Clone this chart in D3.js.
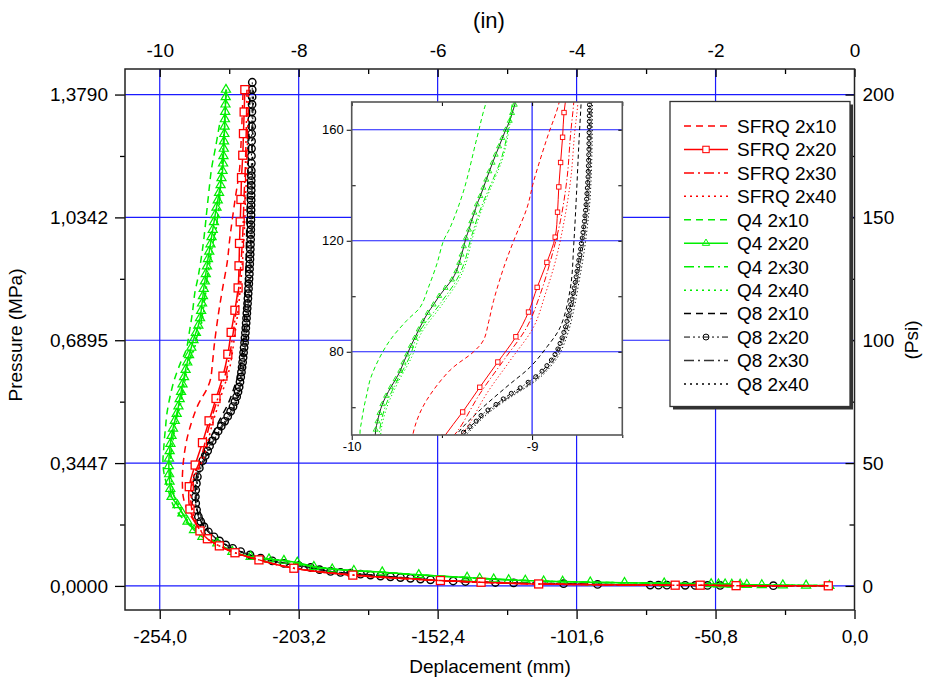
<!DOCTYPE html>
<html>
<head>
<meta charset="utf-8">
<script src="https://cdn.jsdelivr.net/npm/d3@7/dist/d3.min.js"></script>
<style>
  body { margin: 0; background: #fff; }
  svg text { font-family: "Liberation Sans", Arial, sans-serif; fill: #000; }
</style>
</head>
<body>
<div id="chart"></div>
<script>
// ---- tick values / labels ----
const mmTicks = [-254, -203.2, -152.4, -101.6, -50.8, 0];
const mmLabels = ["-254,0", "-203,2", "-152,4", "-101,6", "-50,8", "0,0"];
const mmMinor = [-228.6, -177.8, -127, -76.2, -25.4];
const inTicks = [-10, -8, -6, -4, -2, 0];
const inMinor = [-9, -7, -5, -3, -1];
const psiTicks = [0, 50, 100, 150, 200];
const psiMinor = [25, 75, 125, 175];
const mpaLabels = ["0,0000", "0,3447", "0,6895", "1,0342", "1,3790"];
const insetXTicks = [-10, -9];
const insetXMinor = [-9.5, -8.5];
const insetYTicks = [80, 120, 160];
const insetYMinor = [60, 100, 140];

// ---- data: displacement (in), pressure (psi) ----
// SFRQ family
const tailRedD = [-0.377, -1.704, -2.221, -2.581, -4.546, -5.375, -5.960, -7.221, -8.069, -8.572, -8.917, -9.142, -9.314];
const tailRedP = [0.05, 0.1, 0.3, 0.3, 0.8, 1.5, 2.2, 4.4, 7.2, 10.6, 13.5, 16.3, 19.2];
const sfrq2x10D = [-9.482, -9.602, -9.660, -9.674, -9.670, -9.640, -9.583, -9.454, -9.324, -9.269, -9.240, -9.213, -9.157, -9.102, -9.028, -8.991, -8.917, -8.850, -8.830, -8.815, -8.800];
const sfrq2x10P = [25.5, 30.9, 36.0, 42.0, 47.0, 55.0, 62.7, 73.4, 80.0, 84.2, 91.0, 98.5, 110.4, 120.0, 131.9, 141.5, 157.0, 169.9, 180.0, 190.0, 202.0];
const sfrq2x20D = [-9.421, -9.565, -9.575, -9.490, -9.385, -9.290, -9.190, -9.090, -9.020, -8.972, -8.918, -8.872, -8.859, -8.852, -8.842, -8.831, -8.823, -8.805, -8.795, -8.785, -8.775];
const sfrq2x20P = [22.4, 31.3, 40.4, 49.2, 58.3, 67.2, 76.3, 85.4, 94.3, 103.2, 112.2, 121.3, 130.3, 139.4, 148.2, 157.3, 166.2, 175.3, 184.1, 192.9, 202.0];
const sfrq2x30D = [-9.45, -9.53, -9.555, -9.54, -9.48, -9.417, -9.287, -9.157, -9.028, -8.954, -8.898, -8.843, -8.806, -8.787, -8.769, -8.755, -8.745];
const sfrq2x40D = [-9.44, -9.52, -9.545, -9.53, -9.46, -9.380, -9.250, -9.120, -8.991, -8.926, -8.870, -8.822, -8.785, -8.765, -8.746, -8.735, -8.725];
const sfrqUpperP = [24, 30, 36, 42, 47, 51.1, 65.1, 77.0, 89.0, 100.9, 112.8, 127.2, 142.7, 158.2, 169.9, 185, 202];

// Q4 family
const tailQ4D = [-0.362, -1.032, -2.063, -2.739, -3.803, -4.738, -5.576, -6.272, -6.798, -7.206, -7.781, -8.213, -8.692, -8.955, -9.171];
const tailQ4P = [0.1, 0.3, 0.8, 1.1, 1.5, 2.2, 3.4, 4.5, 5.6, 6.2, 7.8, 10.3, 11.9, 13.9, 17.4];
const q4x10D = [-9.39, -9.602, -9.794, -9.89, -9.94, -9.954, -9.945, -9.931, -9.915, -9.898, -9.852, -9.787, -9.694, -9.620, -9.574, -9.528, -9.491, -9.454, -9.380, -9.306, -9.254, -9.200, -9.137];
const q4x10P = [20.5, 25.5, 32.2, 40.4, 46.0, 50.7, 55.0, 60.3, 65.0, 69.9, 77.0, 84.2, 91.3, 96.1, 103.3, 111.6, 120.0, 124.8, 137.9, 157.0, 169.9, 178.0, 188.2];
const q4x20TailD = [-0.362, -0.697, -1.032, -1.334, -1.550, -1.646, -1.766, -1.862, -1.958, -2.063,
  -2.739, -3.310, -3.803, -4.201, -4.474, -4.738, -4.978, -5.193, -5.395, -5.576,
  -6.272, -6.798, -7.206, -7.517, -7.781, -8.020, -8.213, -8.428, -8.692, -8.955,
  -9.171, -9.386, -9.507, -9.600, -9.674, -9.746, -9.830, -9.848, -9.858, -9.865, -9.869];
const q4x20TailP = [0.1, 0.2, 0.3, 0.4, 0.5, 0.6, 0.6, 0.7, 0.7, 0.8,
  1.1, 1.3, 1.5, 1.8, 1.9, 2.2, 2.4, 2.7, 3.0, 3.4,
  4.5, 5.6, 6.2, 6.8, 7.8, 9.5, 10.3, 10.9, 11.9, 13.9,
  17.4, 20.0, 22.8, 26.2, 29.6, 32.9, 36.3, 39.5, 42.5, 45.5, 48.8];
const q4x20D = [-9.867, -9.857, -9.846, -9.830, -9.809, -9.783, -9.756, -9.731, -9.713, -9.693,
  -9.672, -9.650, -9.628, -9.604, -9.578, -9.546, -9.515, -9.480, -9.444, -9.420,
  -9.404, -9.391, -9.378, -9.367, -9.350, -9.337, -9.320, -9.306, -9.287, -9.270,
  -9.254, -9.237, -9.219, -9.202, -9.183, -9.165, -9.146, -9.124, -9.111, -9.096,
  -9.088, -9.083, -9.078, -9.074, -9.070, -9.066, -9.062, -9.058, -9.054, -9.050, -9.047];
const q4x20P = [51.9, 54.9, 57.9, 61.1, 64.1, 67.2, 70.1, 73.1, 76.1, 79.0,
  82.1, 85.0, 88.0, 91.0, 94.0, 97.0, 100.1, 103.0, 106.0, 109.0,
  112.0, 115.0, 118.0, 121.0, 124.0, 127.0, 130.1, 133.1, 136.1, 139.1,
  142.0, 145.0, 148.1, 151.0, 154.0, 157.0, 160.0, 163.2, 166.0, 169.0,
  172, 175, 178, 181, 184, 187, 190, 193, 196, 199, 202];
const q4x30D = [-9.40, -9.59, -9.72, -9.81, -9.845, -9.846, -9.815, -9.755, -9.68, -9.63, -9.51, -9.42, -9.375, -9.343, -9.29, -9.213, -9.175, -9.15, -9.132, -9.111, -9.075, -9.045];
const q4x40D = [-9.395, -9.58, -9.71, -9.80, -9.835, -9.838, -9.805, -9.745, -9.668, -9.615, -9.495, -9.408, -9.365, -9.335, -9.282, -9.205, -9.168, -9.144, -9.127, -9.106, -9.070, -9.040];
const q4UpperP = [21, 26, 32, 38, 44, 51.1, 60, 68.7, 78, 86.6, 97.3, 105.7, 112.2, 120, 130.7, 142.7, 148.7, 154.6, 160.6, 169, 185, 202];

// Q8 family
const tailQ8D = [-0.377, -1.168, -2.940, -4.187, -5.169, -5.960, -6.535, -7.110, -7.541, -8.000, -8.380, -8.700, -8.950, -9.140];
const tailQ8P = [0.05, 0.1, 0.35, 0.9, 1.4, 2.2, 3.4, 4.8, 5.9, 8.3, 10.2, 12.6, 15.3, 18.3];
const q8x10D = [-9.22, -9.30, -9.40, -9.47, -9.49, -9.475, -9.407, -9.287, -9.139, -9.009, -8.917, -8.843, -8.787, -8.769, -8.754, -8.741, -8.728, -8.715, -8.700];
const q8x10P = [20, 22, 26, 32, 38, 44, 51.1, 59.1, 67.5, 74.6, 81.8, 89, 103.3, 118.8, 136.7, 154.6, 169.9, 185, 202];
const q8x20TailD = [-1.168, -1.934, -2.116, -2.293, -2.437, -2.700, -2.821, -2.940, -3.698, -4.187,
  -4.906, -5.169, -5.600, -5.777, -5.960, -6.103, -6.247, -6.391, -6.535, -6.679,
  -6.822, -6.966, -7.110, -7.254, -7.398, -7.541, -7.700, -7.829, -8.000, -8.213,
  -8.380, -8.548, -8.700, -8.835, -8.950, -9.051, -9.140, -9.219, -9.300, -9.363,
  -9.410, -9.444, -9.470, -9.482, -9.487, -9.482, -9.472, -9.458, -9.430];
const q8x20TailP = [0.1, 0.2, 0.2, 0.2, 0.25, 0.3, 0.3, 0.35, 0.6, 0.9,
  1.2, 1.4, 1.8, 2.0, 2.2, 2.5, 2.8, 3.1, 3.4, 3.7,
  4.0, 4.4, 4.8, 5.2, 5.5, 5.9, 6.6, 7.5, 8.3, 9.2,
  10.2, 11.3, 12.6, 14.0, 15.3, 16.7, 18.3, 20.0, 22.0, 24.1,
  26.2, 28.2, 31.0, 33.6, 36.3, 39.0, 41.7, 44.4, 48.0];
const q8x20D = [-9.380, -9.345, -9.310, -9.283, -9.245, -9.200, -9.160, -9.115, -9.066, -9.022,
  -8.980, -8.945, -8.918, -8.893, -8.873, -8.857, -8.845, -8.834, -8.824, -8.815,
  -8.807, -8.800, -8.793, -8.786, -8.779, -8.773, -8.767, -8.761, -8.756, -8.751,
  -8.746, -8.741, -8.736, -8.731, -8.727, -8.722, -8.718, -8.714, -8.710, -8.707,
  -8.704, -8.701, -8.698, -8.696, -8.694, -8.692, -8.690, -8.689, -8.688, -8.687,
  -8.686, -8.685, -8.685, -8.684, -8.684, -8.683, -8.683, -8.683, -8.682, -8.682,
  -8.681, -8.680, -8.679, -8.678, -8.677, -8.676, -8.674, -8.673, -8.671, -8.670, -8.669, -8.668];
const q8x20P = [51, 53, 55, 57, 59, 61, 63, 65, 67, 69,
  71, 73, 75, 77, 79, 81, 83, 85, 87, 89,
  91, 93, 95, 97, 99, 101, 103, 105, 107, 109,
  111, 113, 115, 117, 119, 121, 123, 125, 127, 129,
  131, 133, 135, 137, 139, 141, 143, 145, 147, 149,
  151, 153, 155, 157, 159, 161, 163, 165, 167, 169,
  172, 175, 178, 181, 184, 187, 190, 193, 196, 199, 202, 205];
const q8x30D = [-9.22, -9.29, -9.37, -9.45, -9.475, -9.46, -9.36, -9.25, -9.12, -9.0, -8.93, -8.86, -8.81, -8.776, -8.748, -8.724, -8.703, -8.688, -8.679, -8.675, -8.673, -8.672, -8.665, -8.658];
const q8x40D = [-9.22, -9.28, -9.36, -9.44, -9.465, -9.45, -9.35, -9.24, -9.11, -8.99, -8.92, -8.85, -8.80, -8.766, -8.738, -8.714, -8.694, -8.680, -8.672, -8.668, -8.666, -8.665, -8.660, -8.652];
const q8UpperP = [20, 22, 26, 32, 38, 44, 51.1, 58, 64, 69, 73, 79, 87, 96, 106, 115, 125, 134, 144, 153, 163, 170, 185, 202];

const red = "#ff0000", green = "#00ee00", black = "#000000";

const series = [
  { name: "SFRQ 2x10", color: red, dash: "7,5", d: tailRedD.concat(sfrq2x10D), p: tailRedP.concat(sfrq2x10P) },
  { name: "SFRQ 2x20", color: red, dash: null, marker: "square", d: tailRedD.concat(sfrq2x20D), p: tailRedP.concat(sfrq2x20P) },
  { name: "SFRQ 2x30", color: red, dash: "10,4,2,4", d: tailRedD.concat(sfrq2x30D), p: tailRedP.concat(sfrqUpperP) },
  { name: "SFRQ 2x40", color: red, dash: "2,4", d: tailRedD.concat(sfrq2x40D), p: tailRedP.concat(sfrqUpperP) },
  { name: "Q4 2x10", color: green, dash: "7,5", d: tailQ4D.concat(q4x10D), p: tailQ4P.concat(q4x10P) },
  { name: "Q4 2x20", color: green, dash: null, marker: "triangle", insetLine: "#222", d: q4x20TailD.concat(q4x20D), p: q4x20TailP.concat(q4x20P) },
  { name: "Q4 2x30", color: green, dash: "10,4,2,4", d: tailQ4D.concat(q4x30D), p: tailQ4P.concat(q4UpperP) },
  { name: "Q4 2x40", color: green, dash: "2,4", d: tailQ4D.concat(q4x40D), p: tailQ4P.concat(q4UpperP) },
  { name: "Q8 2x10", color: black, dash: "7,5", d: tailQ8D.concat(q8x10D), p: tailQ8P.concat(q8x10P) },
  { name: "Q8 2x20", color: black, dash: "6,3,2,3,2,3", width: 1, marker: "circle", d: q8x20TailD.concat(q8x20D), p: q8x20TailP.concat(q8x20P) },
  { name: "Q8 2x30", color: "#333", dash: "10,4,2,4", d: tailQ8D.concat(q8x30D), p: tailQ8P.concat(q8UpperP) },
  { name: "Q8 2x40", color: black, dash: "2,4", d: tailQ8D.concat(q8x40D), p: tailQ8P.concat(q8UpperP) }
];
const drawOrder = [8, 9, 10, 11, 4, 5, 6, 7, 0, 1, 2, 3];

// ---- layout ----
const svg = d3.select("#chart").append("svg")
  .attr("width", 930)
  .attr("height", 684);

const margins = { top: 69, right: 75.5, bottom: 74, left: 125 },
  width = 930 - margins.left - margins.right,
  height = 684 - margins.top - margins.bottom;

const xIn = d3.scaleLinear().domain([-10.5, 0]).range([0, width]);
const xMM = d3.scaleLinear().domain([-266.7, 0]).range([0, width]);
const y = d3.scaleLinear().domain([-9.8, 210.4]).range([height, 0]);

const g = svg.append("g").attr("transform", `translate(${margins.left},${margins.top})`);

const defs = svg.append("defs");
defs.append("clipPath").attr("id", "clipMain")
  .append("rect").attr("width", width).attr("height", height);

// grid
const grid = g.append("g").attr("stroke", "#1a1aff").attr("stroke-width", 1.2);
grid.selectAll("line.v").data(mmTicks.slice(0, -1)).enter().append("line")
  .attr("x1", d => xMM(d)).attr("x2", d => xMM(d)).attr("y1", 0).attr("y2", height);
grid.selectAll("line.h").data(psiTicks).enter().append("line")
  .attr("x1", 0).attr("x2", width).attr("y1", d => y(d)).attr("y2", d => y(d));

// markers
function drawMarkers(sel, s, pts, xs, ys, scale) {
  if (s.marker === "square") {
    const a = 8 * scale;
    sel.selectAll("rect").data(pts).enter().append("rect")
      .attr("x", d => xs(d[0]) - a / 2).attr("y", d => ys(d[1]) - a / 2)
      .attr("width", a).attr("height", a)
      .attr("fill", "#fff").attr("stroke", s.color).attr("stroke-width", 1.3 * Math.max(scale, 0.7));
  } else if (s.marker === "triangle") {
    const sym = d3.symbol().type(d3.symbolTriangle).size(36 * scale * scale);
    sel.selectAll("path.m").data(pts).enter().append("path")
      .attr("transform", d => `translate(${xs(d[0])},${ys(d[1])})`)
      .attr("d", sym).attr("fill", "none")
      .attr("stroke", s.color).attr("stroke-width", 1.2 * Math.max(scale, 0.7));
  } else if (s.marker === "circle") {
    sel.selectAll("circle").data(pts).enter().append("circle")
      .attr("cx", d => xs(d[0])).attr("cy", d => ys(d[1])).attr("r", 3.7 * scale)
      .attr("fill", "none").attr("stroke", s.color).attr("stroke-width", scale < 1 ? 1 : 1.4);
  }
}

function drawSeries(parent, xs, ys, scale, inset) {
  const line = d3.line().x(d => xs(d[0])).y(d => ys(d[1])).curve(d3.curveCatmullRom.alpha(0.5));
  drawOrder.forEach(i => {
    const s = series[i];
    const pts = d3.zip(s.d, s.p);
    const sg = parent.append("g");
    const dash = s.dash ? s.dash.split(",").map(v => +v * (inset ? 0.6 : 1)).join(",") : null;
    sg.append("path").datum(pts)
      .attr("d", line)
      .attr("fill", "none")
      .attr("stroke", inset && s.insetLine ? s.insetLine : s.color)
      .attr("stroke-width", inset ? 1 : (s.width || 1.5))
      .attr("stroke-dasharray", dash);
    if (s.marker) drawMarkers(sg, s, pts, xs, ys, scale);
  });
}

const plotArea = g.append("g").attr("clip-path", "url(#clipMain)");
drawSeries(plotArea, xIn, y, 1, false);

// ---- main axes ----
function styleAxis(sel, size) {
  sel.select(".domain").remove();
  sel.selectAll(".tick line").attr("stroke", "#000").attr("stroke-width", 1.3);
  sel.selectAll(".tick text").style("font-size", size + "px").attr("fill", "#000");
}

g.append("g").attr("transform", `translate(0,${height})`)
  .call(d3.axisBottom(xMM).tickValues(mmTicks).tickSize(9).tickPadding(11)
    .tickFormat((d, i) => mmLabels[i]))
  .call(s => styleAxis(s, 19));
g.append("g").attr("transform", `translate(0,${height})`)
  .call(d3.axisBottom(xMM).tickValues(mmMinor).tickSize(5).tickFormat(""))
  .call(s => styleAxis(s, 19));

g.append("g")
  .call(d3.axisTop(xIn).tickValues(inTicks).tickSize(-8).tickPadding(12).tickFormat(d => d))
  .call(s => styleAxis(s, 19));
g.append("g")
  .call(d3.axisTop(xIn).tickValues(inMinor).tickSize(-5).tickFormat(""))
  .call(s => styleAxis(s, 19));

g.append("g")
  .call(d3.axisLeft(y).tickValues(psiTicks).tickSize(10).tickPadding(7)
    .tickFormat((d, i) => mpaLabels[i]))
  .call(s => styleAxis(s, 19));
g.append("g")
  .call(d3.axisLeft(y).tickValues(psiMinor).tickSize(5).tickFormat(""))
  .call(s => styleAxis(s, 19));

g.append("g").attr("transform", `translate(${width},0)`)
  .call(d3.axisRight(y).tickValues(psiTicks).tickSize(-9).tickPadding(8).tickFormat(d => d))
  .call(s => styleAxis(s, 19));
g.append("g").attr("transform", `translate(${width},0)`)
  .call(d3.axisRight(y).tickValues(psiMinor).tickSize(-5).tickFormat(""))
  .call(s => styleAxis(s, 19));

// axis titles
svg.append("text").attr("x", 490).attr("y", 673).attr("text-anchor", "middle")
  .style("font-size", "19px").text("Deplacement (mm)");
svg.append("text").attr("x", 489).attr("y", 28).attr("text-anchor", "middle")
  .style("font-size", "22px").text("(in)");
svg.append("text").attr("transform", "translate(22,335) rotate(-90)").attr("text-anchor", "middle")
  .style("font-size", "19px").text("Pressure (MPa)");
svg.append("text").attr("transform", "translate(918,340) rotate(-90)").attr("text-anchor", "middle")
  .style("font-size", "19px").text("(Psi)");

// ---- inset ----
const ins = { left: 351.7, top: 102, w: 270.6, h: 333 };
const xInset = d3.scaleLinear().domain([-10, -8.5]).range([0, ins.w]);
const yInset = d3.scaleLinear().domain([50, 170]).range([ins.h, 0]);
const gi = svg.append("g").attr("transform", `translate(${ins.left},${ins.top})`);
defs.append("clipPath").attr("id", "clipInset")
  .append("rect").attr("width", ins.w).attr("height", ins.h);

gi.append("rect").attr("width", ins.w).attr("height", ins.h).attr("fill", "#fff");
const igrid = gi.append("g").attr("stroke", "#1a1aff").attr("stroke-width", 1.2);
igrid.append("line").attr("x1", xInset(-9)).attr("x2", xInset(-9)).attr("y1", 0).attr("y2", ins.h);
igrid.selectAll("line.h").data(insetYTicks).enter().append("line")
  .attr("x1", 0).attr("x2", ins.w).attr("y1", d => yInset(d)).attr("y2", d => yInset(d));

const insetArea = gi.append("g").attr("clip-path", "url(#clipInset)");
drawSeries(insetArea, xInset, yInset, 0.55, true);

gi.append("g").attr("transform", `translate(0,${ins.h})`)
  .call(d3.axisBottom(xInset).tickValues(insetXTicks).tickSize(5).tickPadding(2).tickFormat(d => d))
  .call(s => styleAxis(s, 13));
gi.append("g").attr("transform", `translate(0,${ins.h})`)
  .call(d3.axisBottom(xInset).tickValues(insetXMinor).tickSize(3).tickFormat(""))
  .call(s => styleAxis(s, 13));
gi.append("g")
  .call(d3.axisTop(xInset).tickValues(insetXMinor.concat(insetXTicks)).tickSize(-4).tickFormat(""))
  .call(s => styleAxis(s, 13));
gi.append("g")
  .call(d3.axisLeft(yInset).tickValues(insetYTicks).tickSize(5).tickPadding(3).tickFormat(d => d))
  .call(s => styleAxis(s, 13));
gi.append("g")
  .call(d3.axisLeft(yInset).tickValues(insetYMinor).tickSize(-4).tickFormat(""))
  .call(s => styleAxis(s, 13));
gi.append("g").attr("transform", `translate(${ins.w},0)`)
  .call(d3.axisRight(yInset).tickValues(insetYTicks.concat(insetYMinor)).tickSize(-4).tickFormat(""))
  .call(s => styleAxis(s, 13));
gi.selectAll(".tick line").attr("stroke-width", 1);
gi.append("rect").attr("width", ins.w).attr("height", ins.h)
  .attr("fill", "none").attr("stroke", "#555").attr("stroke-width", 1.6);

// ---- legend ----
const lg = svg.append("g").attr("transform", "translate(670,101.5)");
lg.append("rect").attr("x", 3).attr("y", 3).attr("width", 180).attr("height", 305).attr("fill", "#333");
lg.append("rect").attr("width", 180).attr("height", 305)
  .attr("fill", "#fff").attr("stroke", "#333").attr("stroke-width", 1.3);
series.forEach((s, i) => {
  const yy = 24.5 + i * 23.45;
  const row = lg.append("g");
  row.append("line").attr("x1", 14).attr("x2", 58).attr("y1", yy).attr("y2", yy)
    .attr("stroke", s.color).attr("stroke-width", s.width || 1.5)
    .attr("stroke-dasharray", s.dash);
  if (s.marker) drawMarkers(row, s, [[36, yy]], v => v, v => v, 0.8);
  row.append("text").attr("x", 67).attr("y", yy).attr("dy", "0.36em")
    .style("font-size", "19px").text(s.name);
});

// frame
g.append("rect").attr("width", width).attr("height", height)
  .attr("fill", "none").attr("stroke", "#222").attr("stroke-width", 1.5);
</script>
</body>
</html>
